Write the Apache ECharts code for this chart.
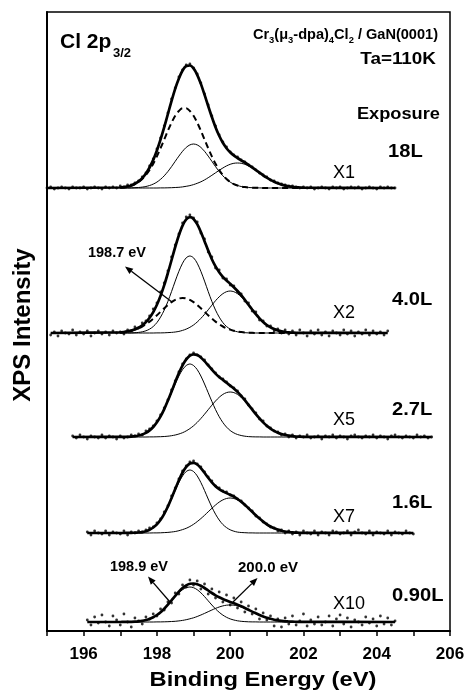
<!DOCTYPE html>
<html><head><meta charset="utf-8">
<script src="https://cdn.jsdelivr.net/npm/echarts@6/dist/echarts.min.js"></script>
<style>html,body{margin:0;padding:0;background:#fff}#c{width:466px;height:692px}</style>
</head><body><div id="c"></div>
<script>
// ---------- DATA ----------
const spectra = ['X1', 'X2', 'X5', 'X7', 'X10'];
const exposures = ['18L', '4.0L', '2.7L', '1.6L', '0.90L'];
const baselines = [443, 298, 194, 98, 9];          // vertical offset of each spectrum
const dataStart = [195.0, 195.1, 195.7, 196.1, 196.1];
const dataEnd = [204.5, 204.3, 205.5, 205.0, 204.5];
const dotStep = 0.1;
const xTicks = [196, 198, 200, 202, 204, 206];

const fitE = [197.0,197.1,197.2,197.3,197.4,197.5,197.6,197.7,197.8,197.9,
              198.0,198.1,198.2,198.3,198.4,198.5,198.6,198.7,198.8,198.9,
              199.0,199.1,199.2,199.3,199.4,199.5,199.6,199.7,199.8,199.9,
              200.0,200.1,200.2,200.3,200.4,200.5,200.6,200.7,200.8,200.9,
              201.0,201.1,201.2,201.3,201.4,201.5,201.6,201.7,201.8,201.9,202.0];

const x1Dashed = [0.5,0.9,1.5,2.5,3.9,6.1,9.0,13.0,18.0,24.2, 31.6,39.8,48.5,57.3,65.4,72.2,77.0,79.7,79.7,77.0, 72.2,65.4,57.3,48.5,39.8,31.6,24.2,18.0,13.0,9.0, 6.1,3.9,2.5,1.5,0.9,0.5,0.3,0.2,0.1,0, 0,0,0,0,0,0,0,0,0,0,0];
const x1Comp1  = [0,0,0.1,0.1,0.3,0.5,0.9,1.5,2.5,3.9, 5.9,8.7,12.2,16.5,21.4,26.7,31.9,36.7,40.6,43.1, 44,43.1,40.6,36.7,31.9,26.7,21.4,16.5,12.2,8.7, 5.9,3.9,2.5,1.5,0.9,0.5,0.3,0.1,0.1,0, 0,0,0,0,0,0,0,0,0,0,0];
const x1Comp2  = [0,0,0,0,0,0,0,0,0,0, 0,0.1,0.1,0.2,0.3,0.5,0.7,1.1,1.7,2.4, 3.4,4.7,6.2,8.1,10.3,12.7,15.2,17.7,20.0,22.1, 23.7,24.7,25,24.7,23.7,22.1,20.0,17.7,15.2,12.7, 10.3,8.1,6.2,4.7,3.4,2.4,1.7,1.1,0.7,0.5,0.3];
const x1Total  = [0.5,0.9,1.6,2.6,4.2,6.6,9.9,14.5,20.5,28.1, 37.5,48.6,60.8,74.0,87.1,99.4,109.6,117.5,122.0,122.5, 119.6,113.2,104.1,93.3,82.0,71.0,60.8,52.2,45.2,39.8, 35.7,32.5,30.0,27.7,25.5,23.1,20.6,18.0,15.4,12.7, 10.3,8.1,6.2,4.7,3.4,2.4,1.7,1.1,0.7,0.5,0.3];

const x2Comp1  = [0,0,0.1,0.1,0.3,0.6,1.2,2.2,3.9,6.5, 10.4,15.9,22.9,31.6,41.5,51.9,61.7,69.8,75.2,77, 75.2,69.8,61.7,51.9,41.5,31.6,22.9,15.9,10.4,6.5, 3.9,2.2,1.2,0.6,0.3,0.1,0.1,0,0,0, 0,0,0,0,0,0,0,0,0,0,0];
const x2Dashed = [0.6,1.0,1.5,2.3,3.4,4.7,6.5,8.7,11.4,14.4, 17.7,21.2,24.7,28.0,30.9,33.1,34.5,35,34.5,33.1, 30.9,28.0,24.7,21.2,17.7,14.4,11.4,8.7,6.5,4.7, 3.4,2.3,1.5,1.0,0.6,0.4,0.2,0.1,0.1,0, 0,0,0,0,0,0,0,0,0,0,0];
const x2Comp2  = [0,0,0,0,0,0,0,0,0,0, 0.1,0.1,0.2,0.4,0.6,1.0,1.6,2.6,3.9,5.7, 8.0,11.0,14.6,18.7,23.2,27.8,32.3,36.2,39.3,41.3, 42,41.3,39.3,36.2,32.3,27.8,23.2,18.7,14.6,11.0, 8.0,5.7,3.9,2.6,1.6,1.0,0.6,0.4,0.2,0.1,0.1];
const x2Total  = [0.6,1.0,1.6,2.4,3.7,5.3,7.7,10.9,15.3,20.9, 28.2,37.2,47.8,60.0,73.0,86.0,97.8,107.4,113.6,115.8, 114.1,108.8,101.0,91.8,82.4,73.8,66.6,60.8,56.2,52.5, 49.3,45.8,42.0,37.8,33.2,28.3,23.5,18.8,14.7,11.0, 8.0,5.7,3.9,2.6,1.6,1.0,0.6,0.4,0.2,0.1,0.1];

const x5Comp1  = [0.1,0.1,0.2,0.4,0.8,1.5,2.5,4.1,6.5,9.9, 14.5,20.3,27.4,35.6,44.3,53.0,61.0,67.4,71.5,73, 71.5,67.4,61.0,53.0,44.3,35.6,27.4,20.3,14.5,9.9, 6.5,4.1,2.5,1.5,0.8,0.4,0.2,0.1,0.1,0, 0,0,0,0,0,0,0,0,0,0,0];
const x5Comp2  = [0,0,0,0,0,0,0,0,0.1,0.1, 0.2,0.3,0.5,0.8,1.3,2.0,3.0,4.3,6.1,8.4, 11.2,14.6,18.5,22.8,27.3,31.8,36.0,39.7,42.6,44.4, 45,44.4,42.6,39.7,36.0,31.8,27.3,22.8,18.5,14.6, 11.2,8.4,6.1,4.3,3.0,2.0,1.3,0.8,0.5,0.3,0.2];
const x5Total  = [0.1,0.1,0.2,0.4,0.8,1.5,2.5,4.1,6.6,10.0, 14.7,20.6,27.9,36.4,45.6,55.0,64.0,71.7,77.6,81.4, 82.7,82.0,79.5,75.8,71.6,67.4,63.4,60.0,57.1,54.3, 51.5,48.5,45.1,41.2,36.8,32.2,27.5,22.9,18.6,14.6, 11.2,8.4,6.1,4.3,3.0,2.0,1.3,0.8,0.5,0.3,0.2];

const x7Comp1  = [0,0,0.1,0.1,0.3,0.5,0.9,1.8,3.2,5.4, 8.5,13.0,18.8,25.9,34.0,42.5,50.5,57.1,61.5,63, 61.5,57.1,50.5,42.5,34.0,25.9,18.8,13.0,8.5,5.4, 3.2,1.8,0.9,0.5,0.3,0.1,0.1,0,0,0, 0,0,0,0,0,0,0,0,0,0,0];
const x7Comp2  = [0,0,0,0,0,0,0,0,0,0.1, 0.1,0.2,0.4,0.6,1.0,1.5,2.3,3.4,4.7,6.5, 8.7,11.4,14.4,17.7,21.2,24.7,28.0,30.9,33.1,34.5, 35,34.5,33.1,30.9,28.0,24.7,21.2,17.7,14.4,11.4, 8.7,6.5,4.7,3.4,2.3,1.5,1.0,0.6,0.4,0.2,0.1];
const x7Total  = [0,0,0.1,0.1,0.3,0.5,0.9,1.8,3.2,5.5, 8.6,13.2,19.2,26.5,35.0,44.0,52.8,60.5,66.2,69.5, 70.2,68.5,64.9,60.2,55.2,50.6,46.8,43.9,41.6,39.9, 38.2,36.3,34.0,31.4,28.3,24.8,21.3,17.7,14.4,11.4, 8.7,6.5,4.7,3.4,2.3,1.5,1.0,0.6,0.4,0.2,0.1];

const x10Comp1 = [0,0.1,0.1,0.2,0.4,0.7,1.2,2.0,3.1,4.7, 6.9,9.7,13.1,17.0,21.2,25.4,29.2,32.3,34.3,35, 34.3,32.3,29.2,25.4,21.2,17.0,13.1,9.7,6.9,4.7, 3.1,2.0,1.2,0.7,0.4,0.2,0.1,0.1,0,0, 0,0,0,0,0,0,0,0,0,0,0];
const x10Comp2 = [0,0,0,0,0,0,0,0,0,0, 0.1,0.1,0.2,0.3,0.5,0.7,1.1,1.6,2.3,3.2, 4.2,5.5,7.0,8.6,10.3,12.0,13.6,15.0,16.1,16.8, 17,16.8,16.1,15.0,13.6,12.0,10.3,8.6,7.0,5.5, 4.2,3.2,2.3,1.6,1.1,0.7,0.5,0.3,0.2,0.1,0.1];
const x10Total = [0,0.1,0.1,0.2,0.4,0.7,1.2,2.0,3.1,4.7, 7.0,9.8,13.3,17.3,21.7,26.1,30.3,33.9,36.6,38.2, 38.5,37.8,36.2,34.0,31.5,29.0,26.7,24.7,23.0,21.5, 20.1,18.8,17.3,15.7,14.0,12.2,10.4,8.7,7.0,5.5, 4.2,3.2,2.3,1.6,1.1,0.7,0.5,0.3,0.2,0.1,0.1];

const dotsX1 = [0,1,-1,0,1,0,-1,1,0,0, 1,-1,0,1,0,-1,1,0,1,0, 2,1,3,3,5,7,11,15,22,29, 39,50,62,75,89,100,111,118,123,124, 120,114,105,94,83,72,62,53,46,41, 36,33,31,28,26,23,21,18,15,13, 11,8,7,5,4,3,2,2,1,0, 1,0,1,-1,0,1,0,-1,1,0, 1,-1,0,1,0,1,-1,0,1,0, -1,1,0,1,0,0];
const dotsX2 = [-2,1,-3,2,0,-1,3,-2,1, -1,2,-3,0,2,-1,1,-2,2,0, 1,-1,3,2,6,5,10,12,17,24, 30,41,50,62,76,88,99,110,116,118, 115,111,100,94,81,76,65,63,55,54, 48,47,41,39,32,30,22,21,13,12, 7,7,2,4,0,3,-1,2,-2,3, 0,-3,2,-1,3,-2,1,-3,2,0, -2,3,-1,2,-3,1,-1,3,-2,2, -1,1,-2,2];
const dotsX5 = [1,-1,2, 0,-2,1,0,-1,2,-1,1,0,-2, 1,-1,0,2,1,3,2,6,8,11, 16,22,29,37,47,56,65,73,78,82, 84,82,80,77,72,68,64,60,58,55, 51,49,46,41,38,32,28,24,18,16, 11,9,6,5,2,3,0,2,-1,1, 0,2,-1,0,1,-2,1,0,2,-1, 1,0,-2,1,2,0,-1,1,0,2, -1,1,0,-2,1,2,0,-1,1,0, -1,2,0,1,-1,0];
const dotsX7 = [1,-2,2,0,-1,2,-2,1,0, -1,2,-2,1,0,2,1,3,5,6, 10,14,21,27,37,45,54,62,67,71, 72,69,66,61,56,52,47,45,42,41, 38,37,34,32,28,25,22,17,15,11, 9,6,5,2,3,0,2,-1,1,-2, 2,0,-1,2,-2,1,0,-2,2,1, -1,0,2,-2,1,3,0,-1,2,-2, 1,0,-1,2,-2,1,0,-1,2,0, -1];
const dotsX10 = [2,-3,5,-1,7,0,-4,6,2, -3,8,0,-5,4,1,-2,5,3,8, 6,13,12,20,19,29,28,37,35,42, 37,41,33,38,28,33,24,30,20,27, 17,24,14,20,10,16,8,13,3,9, 2,6,-4,3,-5,4,-2,6,-3,1, 8,-4,2,-2,5,-3,0,6,-4,3, 7,-2,4,-5,2,0,-3,5,-1,3, -4,6,-2,4,-3,1];

const fits = [
  {total: x1Total, comps: [x1Comp1, x1Comp2], dashed: x1Dashed, dots: dotsX1},
  {total: x2Total, comps: [x2Comp1, x2Comp2], dashed: x2Dashed, dots: dotsX2},
  {total: x5Total, comps: [x5Comp1, x5Comp2], dashed: null, dots: dotsX5},
  {total: x7Total, comps: [x7Comp1, x7Comp2], dashed: null, dots: dotsX7},
  {total: x10Total, comps: [x10Comp1, x10Comp2], dashed: null, dots: dotsX10}
];

// ---------- CHART ----------
const FONT = '"Liberation Sans", Arial, Helvetica, sans-serif';
const series = [];
fits.forEach((f, k) => {
  const b = baselines[k];
  f.comps.forEach(c => series.push({
    type: 'line', smooth: 0.3, symbol: 'none', silent: true, z: 2,
    lineStyle: {color: '#000', width: 1},
    data: fitE.map((e, i) => [e, b + c[i]])
  }));
  if (f.dashed) series.push({
    type: 'line', smooth: 0.3, symbol: 'none', silent: true, z: 2,
    lineStyle: {color: '#000', width: 2, type: [6, 4]},
    data: fitE.map((e, i) => [e, b + f.dashed[i]])
  });
  series.push({
    type: 'line', smooth: 0.3, symbol: 'none', silent: true, z: 3,
    lineStyle: {color: '#000', width: 2.7},
    data: [[dataStart[k], b]].concat(fitE.map((e, i) => [e, b + f.total[i]]), [[dataEnd[k], b]])
  });
  series.push({
    type: 'scatter', symbol: 'circle', symbolSize: 2.8, silent: true, z: 4,
    itemStyle: {color: '#000'},
    data: f.dots.map((v, i) => [+(dataStart[k] + i * dotStep).toFixed(2), b + v])
  });
});

function txt(x, y, text, font, align, scaleX, extra) {
  return Object.assign({
    type: 'text', x: x, y: y, scaleX: scaleX || 1, z: 10,
    style: {text: text, font: font, fill: '#000', textAlign: align || 'left', textVerticalAlign: 'middle'}
  }, extra || {});
}
function arrow(x1, y1, x2, y2) {
  const a = Math.atan2(y2 - y1, x2 - x1), L = 8, W = 3.2;
  const bx = x2 - L * Math.cos(a), by = y2 - L * Math.sin(a);
  const px = -Math.sin(a) * W, py = Math.cos(a) * W;
  return [
    {type: 'line', z: 10, shape: {x1: x1, y1: y1, x2: bx, y2: by}, style: {stroke: '#000', lineWidth: 1.3}},
    {type: 'polygon', z: 10, shape: {points: [[x2, y2], [bx + px, by + py], [bx - px, by - py]]}, style: {fill: '#000'}}
  ];
}

const labelY = [173, 313, 420, 517, 604];
const expoY = [152, 300, 410, 503, 596];
const expoX = [388, 392, 392, 392, 392];
const graphics = [
  txt(60, 42, 'Cl 2p', 'bold 21px ' + FONT),
  txt(113, 53, '3/2', 'bold 13px ' + FONT),
  {type: 'text', x: 438, y: 35, z: 10, scaleX: 1.04, style: {
    text: '{m|Cr}{s|3}{m|(μ}{s|3}{m|-dpa)}{s|4}{m|Cl}{s|2}{m| / GaN(0001)}',
    textAlign: 'right', textVerticalAlign: 'middle', fill: '#000',
    rich: {m: {font: 'bold 14px ' + FONT, fill: '#000'}, s: {font: 'bold 9px ' + FONT, fill: '#000', padding: [11, 0, 0, 0]}}
  }},
  txt(436, 60, 'Ta=110K', 'bold 16px ' + FONT, 'right', 1.18),
  txt(440, 115, 'Exposure', 'bold 16px ' + FONT, 'right', 1.14),
  txt(117, 253, '198.7 eV', 'bold 14.5px ' + FONT, 'center'),
  txt(139, 567, '198.9 eV', 'bold 14.5px ' + FONT, 'center'),
  txt(268, 568, '200.0 eV', 'bold 15px ' + FONT, 'center'),
  txt(263, 680, 'Binding Energy (eV)', 'bold 21px ' + FONT, 'center', 1.13),
  txt(23, 325, 'XPS Intensity', 'bold 24px ' + FONT, 'center', 1, {rotation: Math.PI / 2})
].concat(
  spectra.map((s, k) => txt(333, labelY[k], s, '18px ' + FONT)),
  exposures.map((s, k) => txt(expoX[k], expoY[k], s, 'bold 17.5px ' + FONT, 'left', 1.15)),
  arrow(172, 302, 125, 266.5),
  arrow(170, 602, 148, 576.5),
  arrow(233, 602, 257.5, 578)
);

const chart = echarts.init(document.getElementById('c'), null, {renderer: 'canvas'});
chart.setOption({
  animation: false,
  backgroundColor: '#fff',
  grid: {left: 47, right: 16, top: 12, bottom: 61, show: true, borderColor: '#000', borderWidth: 1.5,
         containLabel: false, outerBoundsMode: 'none'},
  xAxis: {
    type: 'value', min: 195, max: 206, interval: 1,
    axisLine: {lineStyle: {color: '#000', width: 2}},
    axisTick: {length: 5, lineStyle: {color: '#000', width: 1.5}},
    axisLabel: {formatter: v => xTicks.indexOf(v) >= 0 ? String(v) : '', color: '#000',
                fontSize: 17, fontWeight: 'bold', fontFamily: FONT, margin: 15},
    splitLine: {show: false}
  },
  yAxis: {
    type: 'value', min: 0, max: 619,
    axisLine: {show: true, lineStyle: {color: '#000', width: 2}},
    axisTick: {show: false}, axisLabel: {show: false}, splitLine: {show: false}
  },
  series: series,
  graphic: graphics
});
</script>
</body></html>
